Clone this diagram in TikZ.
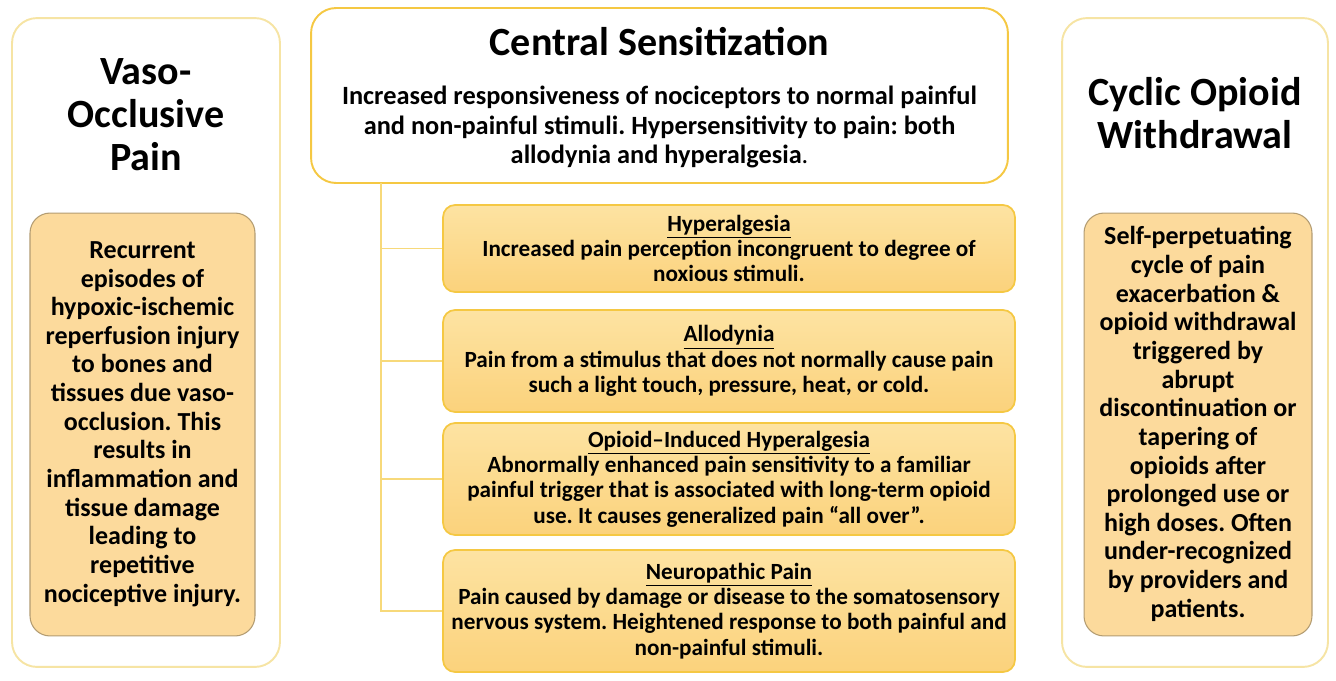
\documentclass[tikz,border=0pt]{standalone}
\usepackage{fontspec}
\setmainfont{Carlito}
\usetikzlibrary{positioning}
\frenchspacing

\definecolor{goldline}{HTML}{F5C843}
\definecolor{paleline}{HTML}{F6E4A4}
\definecolor{subtop}{HTML}{FDE3A2}
\definecolor{subbot}{HTML}{FBD27C}
\definecolor{sidefill}{HTML}{FCDA9C}
\definecolor{sideline}{HTML}{B39C72}
\definecolor{linkline}{HTML}{F7D97A}

\tikzset{
	outerbox/.style={draw=paleline, line width=1.1pt, rounded corners=0.5cm, fill=white},
	sidebox/.style={draw=sideline, line width=0.6pt, rounded corners=0.4cm, fill=sidefill},
	subbox/.style={draw=goldline, line width=1pt, rounded corners=0.24cm, top color=subtop, bottom color=subbot},
	bigtitle/.style={font=\bfseries\fontsize{22.8}{24.4}\selectfont, align=center},
	sidetext/.style={font=\bfseries\fontsize{14.8}{16.3}\selectfont, align=center},
	cstext/.style={font=\bfseries\fontsize{15}{17}\selectfont, align=center},
	subtext/.style={font=\bfseries\fontsize{13.2}{14.4}\selectfont, align=center},
	link/.style={draw=linkline, line width=1pt}
}

\begin{document}
\begin{tikzpicture}[x=0.02cm, y=-0.02cm]
	% fixed frame, 1336 x 680 px
	\useasboundingbox (0,0) rectangle (1336,680);
	
	% --- Left column: vaso-occlusive pain ---
	\node[outerbox, minimum width=5.36cm, minimum height=12.98cm] (voc) at (146,342.5) {};
	\node[bigtitle] (voctitle) at (146,115) {Vaso-\\Occlusive\\Pain};
	\node[sidebox, minimum width=4.5cm, minimum height=8.46cm] (vocbox) at (142.5,424.5) {};
	\node[sidetext] (voctext) at (142.5,424) {Recurrent\\episodes of\\hypoxic-ischemic\\reperfusion injury\\to bones and\\tissues due vaso-\\occlusion. This\\results in\\inflammation and\\tissue damage\\leading to\\repetitive\\nociceptive injury.};
	
	% --- Right column: cyclic opioid withdrawal ---
	\node[outerbox, minimum width=5.32cm, minimum height=12.98cm] (cow) at (1195,342.5) {};
	\node[bigtitle] (cowtitle) at (1195,113.5) {Cyclic Opioid\\Withdrawal};
	\node[sidebox, minimum width=4.56cm, minimum height=8.46cm] (cowbox) at (1198,424.5) {};
	\node[sidetext] (cowtext) at (1198,424) {Self-perpetuating\\cycle of pain\\exacerbation \&\\opioid withdrawal\\triggered by\\abrupt\\discontinuation or\\tapering of\\opioids after\\prolonged use or\\high doses. Often\\under-recognized\\by providers and\\patients.};
	
	% --- Centre: central sensitization ---
	\node[outerbox, draw=goldline, minimum width=13.94cm, minimum height=3.5cm] (cs) at (659.5,95.5) {};
	\node[bigtitle] (cstitle) at (659.5,42) {Central Sensitization};
	\node[cstext] (csdesc) at (659.5,127) {Increased responsiveness of nociceptors to normal painful\\and non-painful stimuli. Hypersensitivity to pain: both\\allodynia and hyperalgesia{\mdseries .}};
	
	% --- Sub-boxes ---
	\node[subbox, minimum width=11.44cm, minimum height=1.74cm] (hyp) at (729,248.5) {};
	\node[subtext] (hyptext) at (729,248.5) {\underline{Hyperalgesia}\\Increased pain perception incongruent to degree of\\noxious stimuli.};
	\node[subbox, minimum width=11.44cm, minimum height=2.04cm] (allo) at (729,361) {};
	\node[subtext] (allotext) at (729,361) {\underline{Allodynia}\\Pain from a stimulus that does not normally cause pain\\such a light touch, pressure, heat, or cold.};
	\node[subbox, minimum width=11.44cm, minimum height=2.24cm] (oih) at (729,479) {};
	\node[subtext] (oihtext) at (729,479) {\underline{Opioid–Induced Hyperalgesia}\\Abnormally enhanced pain sensitivity to a familiar\\painful trigger that is associated with long-term opioid\\use. It causes generalized pain “all over”.};
	\node[subbox, minimum width=11.44cm, minimum height=2.44cm] (neuro) at (729,611) {};
	\node[subtext] (neurotext) at (729,611) {\underline{Neuropathic Pain}\\Pain caused by damage or disease to the somatosensory\\nervous system. Heightened response to both painful and\\non-painful stimuli.};
	
	% --- Tree connector ---
	\coordinate (trunk) at (381,183);
	\draw[link] (trunk) |- (neuro.west);
	\draw[link] (trunk |- hyp.west) -- (hyp.west);
	\draw[link] (trunk |- allo.west) -- (allo.west);
	\draw[link] (trunk |- oih.west) -- (oih.west);
\end{tikzpicture}
\end{document}
